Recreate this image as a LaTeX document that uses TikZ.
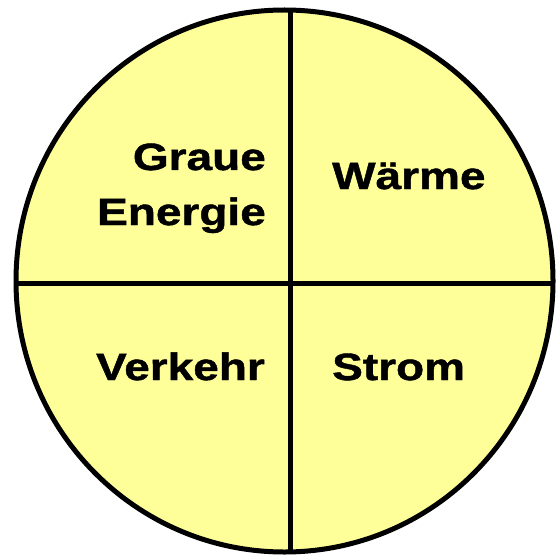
\documentclass[tikz,border=0pt]{standalone}
\usepackage{fontspec}
\setmainfont{Liberation Sans}[FakeStretch=1.21,FakeBold=1.2]
\definecolor{paleyellow}{HTML}{FFFF99}
\begin{document}
\begin{tikzpicture}[x=1pt,y=-1pt,
  lab/.style={font=\fontsize{38}{44}\selectfont\bfseries, inner sep=0pt, text=black},
  rim/.style={line width=5pt, draw=black}]
\useasboundingbox (0,0) rectangle (555,556);
\fill[paleyellow] (284.5,281) ellipse [x radius=268.5, y radius=271];
\begin{scope}
  \clip (284.5,281) ellipse [x radius=268.5, y radius=271];
  \coordinate (vt) at (290,0);
  \coordinate (vb) at (290,556);
  \coordinate (hl) at (0,283);
  \coordinate (hr) at (560,283);
  \draw[rim] (vt) -- (vb);
  \draw[rim] (hl) -- (hr);
\end{scope}
\draw[rim] (284.5,281) ellipse [x radius=268.5, y radius=271];
\node[lab, anchor=base east] (g1) at (266,170) {Graue};
\node[lab, anchor=base east] (g2) at (266,225) {Energie};
\node[lab, anchor=base west] (w) at (332,189) {Wärme};
\node[lab, anchor=base east] (v) at (265,380) {Verkehr};
\node[lab, anchor=base west] (s) at (332,380) {Strom};
\end{tikzpicture}
\end{document}
